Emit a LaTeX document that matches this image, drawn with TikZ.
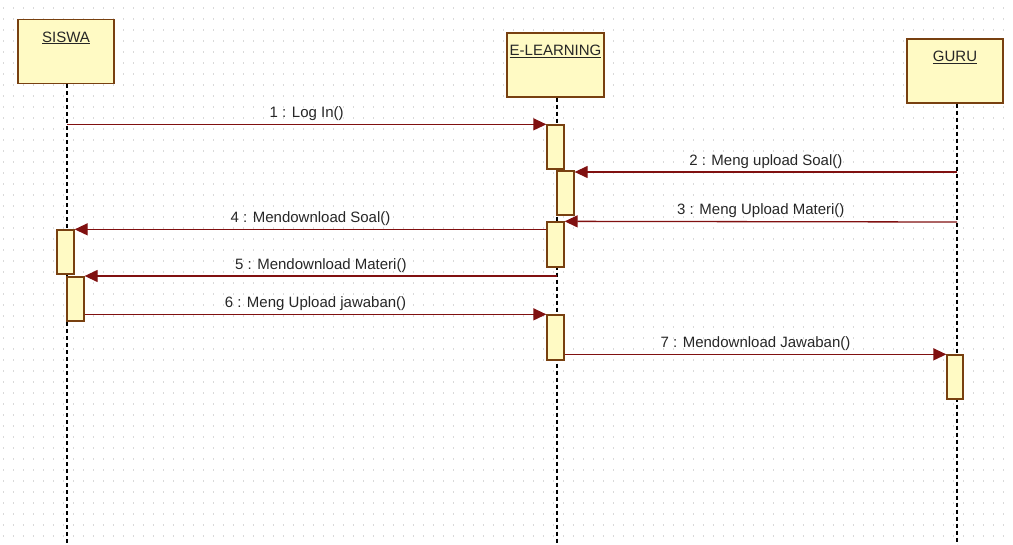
\documentclass[tikz,border=0pt]{standalone}
\usepackage{fontspec}
\setmainfont{Liberation Sans}
\usetikzlibrary{arrows.meta}
\definecolor{msgred}{RGB}{128,16,16}
\definecolor{boxfill}{RGB}{255,250,196}
\definecolor{boxline}{RGB}{120,64,16}
\tikzset{
  actor/.style={draw=boxline, fill=boxfill, line width=1.3pt, minimum width=96, minimum height=64, inner sep=0},
  actortext/.style={font=\fontsize{15}{17}\selectfont, text=black!85, inner sep=0},
  actbar/.style={draw=boxline, fill=boxfill, line width=1.3pt, minimum width=17, minimum height=44, inner sep=0},
  lifeline/.style={black, line width=1.2pt, dash pattern=on 4pt off 3pt},
  msg/.style={msgred, line width=1.3pt, -{Triangle[length=13pt, width=12pt]}},
  msgtext/.style={font=\fontsize{15}{17}\selectfont, text=black!85, above, inner sep=3pt}
}
\begin{document}
\begin{tikzpicture}[x=1pt, y=-1pt]
  \useasboundingbox (0,0) rectangle (1013,545);
  % dotted background
  \foreach \y in {8,19,...,545}
    \draw[black!15, line width=1.2pt, dash pattern=on 1.2pt off 8.8pt] (3,\y) -- (1013,\y);

  % actors
  \node[actor] (siswa) at (66,51.5) {};
  \node[actor, minimum width=97] (elearn) at (555.5,65) {};
  \node[actor] (guru) at (955,71) {};
  \node[actortext] (siswaname) at ([yshift=-19]siswa.north) {\underline{SISWA}};
  \node[actortext] (elearnname) at ([yshift=-19]elearn.north) {\underline{E-LEARNING}};
  \node[actortext] (guruname) at ([yshift=-19]guru.north) {\underline{GURU}};

  % lifelines
  \draw[lifeline] ([xshift=1]siswa.south) -- ++(0,461);
  \draw[lifeline] ([xshift=1.5]elearn.south) -- ++(0,448);
  \draw[lifeline] ([xshift=2]guru.south) -- ++(0,442);

  % activations
  \node[actbar] (e1) at (555.5,147) {};
  \node[actbar] (e2) at (565.5,193) {};
  \node[actbar, minimum height=45] (e3) at (555.5,244.5) {};
  \node[actbar, minimum height=45] (e4) at (555.5,337.5) {};
  \node[actbar] (s1) at (65.5,252) {};
  \node[actbar] (s2) at (75.5,299) {};
  \node[actbar, minimum width=16] (g1) at (955,377) {};

  % messages
  \coordinate (m1) at ([xshift=1]siswa.south |- e1.north);
  \coordinate (m2) at ([xshift=2]guru.south |- 0,172);
  \coordinate (m3) at ([xshift=2]guru.south |- 0,222);
  \coordinate (m5) at ([xshift=1.5]elearn.south |- 0,276);
  \draw[msg] (m1) -- node[msgtext] {1 : Log In()} (e1.north west);
  \draw[msg] (m2) -- node[msgtext] {2 : Meng upload Soal()} (e2.east |- m2);
  \draw[msg] (m3) -- node[msgtext] {3 : Meng Upload Materi()} (e3.north east);
  \draw[msg] (e3.west |- s1.north) -- node[msgtext] {4 : Mendownload Soal()} (s1.north east);
  \draw[msg] (m5) -- node[msgtext] {5 : Mendownload Materi()} (s2.east |- m5);
  \draw[msg] (s2.east |- e4.north) -- node[msgtext] {6 : Meng Upload jawaban()} (e4.north west);
  \draw[msg] (e4.east |- g1.north) -- node[msgtext] {7 : Mendownload Jawaban()} (g1.north west);
\end{tikzpicture}
\end{document}
